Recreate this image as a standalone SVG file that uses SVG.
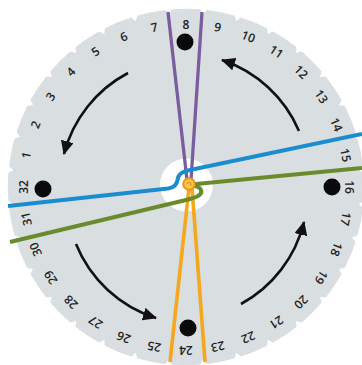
<svg xmlns="http://www.w3.org/2000/svg" xmlns:xlink="http://www.w3.org/1999/xlink" width="362" height="365" viewBox="0 0 362 365">
<style>
.disc{fill:#d9dee1;stroke:#d9dee1;stroke-width:2.5;stroke-linejoin:round}
.lbl{font-family:"Open Sans","DejaVu Sans",sans-serif;font-size:12px;font-weight:600;fill:#222;text-anchor:middle;dominant-baseline:central}
.dot{fill:#0a0a0a}
.arrow{fill:none;stroke:#111;stroke-width:2.6;marker-end:url(#ah)}
.strand{fill:none;stroke-linecap:butt;stroke-linejoin:round}
</style>
<defs>
<path id="tab" d="M-16.9,-170 L-13.5,-176.4 L0,-177 L13.5,-176.4 L16.9,-170 Z"/>
<marker id="ah" markerUnits="userSpaceOnUse" markerWidth="15" markerHeight="13" refX="13" refY="6.5" orient="auto">
<path d="M0,0 L14,6.5 L0,13 Z" fill="#111"/>
</marker>
</defs>
<rect width="362" height="365" fill="#fff"/>
<g id="disc" transform="translate(186,187)">
<circle class="disc" r="171"/>
<use class="disc" href="#tab" transform="rotate(0)"/>
<use class="disc" href="#tab" transform="rotate(11.25)"/>
<use class="disc" href="#tab" transform="rotate(22.5)"/>
<use class="disc" href="#tab" transform="rotate(33.75)"/>
<use class="disc" href="#tab" transform="rotate(45)"/>
<use class="disc" href="#tab" transform="rotate(56.25)"/>
<use class="disc" href="#tab" transform="rotate(67.5)"/>
<use class="disc" href="#tab" transform="rotate(78.75)"/>
<use class="disc" href="#tab" transform="rotate(90)"/>
<use class="disc" href="#tab" transform="rotate(101.25)"/>
<use class="disc" href="#tab" transform="rotate(112.5)"/>
<use class="disc" href="#tab" transform="rotate(123.75)"/>
<use class="disc" href="#tab" transform="rotate(135)"/>
<use class="disc" href="#tab" transform="rotate(146.25)"/>
<use class="disc" href="#tab" transform="rotate(157.5)"/>
<use class="disc" href="#tab" transform="rotate(168.75)"/>
<use class="disc" href="#tab" transform="rotate(180)"/>
<use class="disc" href="#tab" transform="rotate(191.25)"/>
<use class="disc" href="#tab" transform="rotate(202.5)"/>
<use class="disc" href="#tab" transform="rotate(213.75)"/>
<use class="disc" href="#tab" transform="rotate(225)"/>
<use class="disc" href="#tab" transform="rotate(236.25)"/>
<use class="disc" href="#tab" transform="rotate(247.5)"/>
<use class="disc" href="#tab" transform="rotate(258.75)"/>
<use class="disc" href="#tab" transform="rotate(270)"/>
<use class="disc" href="#tab" transform="rotate(281.25)"/>
<use class="disc" href="#tab" transform="rotate(292.5)"/>
<use class="disc" href="#tab" transform="rotate(303.75)"/>
<use class="disc" href="#tab" transform="rotate(315)"/>
<use class="disc" href="#tab" transform="rotate(326.25)"/>
<use class="disc" href="#tab" transform="rotate(337.5)"/>
<use class="disc" href="#tab" transform="rotate(348.75)"/>
</g>
<g id="labels" transform="translate(186,187)">
<text class="lbl" transform="rotate(-78.75) translate(0,-163)">1</text>
<text class="lbl" transform="rotate(-67.5) translate(0,-163)">2</text>
<text class="lbl" transform="rotate(-56.25) translate(0,-163)">3</text>
<text class="lbl" transform="rotate(-45) translate(0,-163)">4</text>
<text class="lbl" transform="rotate(-33.75) translate(0,-163)">5</text>
<text class="lbl" transform="rotate(-22.5) translate(0,-163)">6</text>
<text class="lbl" transform="rotate(-11.25) translate(0,-163)">7</text>
<text class="lbl" transform="rotate(0) translate(0,-163)">8</text>
<text class="lbl" transform="rotate(11.25) translate(0,-163)">9</text>
<text class="lbl" transform="rotate(22.5) translate(0,-163)">10</text>
<text class="lbl" transform="rotate(33.75) translate(0,-163)">11</text>
<text class="lbl" transform="rotate(45) translate(0,-163)">12</text>
<text class="lbl" transform="rotate(56.25) translate(0,-163)">13</text>
<text class="lbl" transform="rotate(67.5) translate(0,-163)">14</text>
<text class="lbl" transform="rotate(78.75) translate(0,-163)">15</text>
<text class="lbl" transform="rotate(90) translate(0,-163)">16</text>
<text class="lbl" transform="rotate(101.25) translate(0,-163)">17</text>
<text class="lbl" transform="rotate(112.5) translate(0,-163)">18</text>
<text class="lbl" transform="rotate(123.75) translate(0,-163)">19</text>
<text class="lbl" transform="rotate(135) translate(0,-163)">20</text>
<text class="lbl" transform="rotate(146.25) translate(0,-163)">21</text>
<text class="lbl" transform="rotate(157.5) translate(0,-163)">22</text>
<text class="lbl" transform="rotate(168.75) translate(0,-163)">23</text>
<text class="lbl" transform="rotate(180) translate(0,-163)">24</text>
<text class="lbl" transform="rotate(191.25) translate(0,-163)">25</text>
<text class="lbl" transform="rotate(202.5) translate(0,-163)">26</text>
<text class="lbl" transform="rotate(213.75) translate(0,-163)">27</text>
<text class="lbl" transform="rotate(225) translate(0,-163)">28</text>
<text class="lbl" transform="rotate(236.25) translate(0,-163)">29</text>
<text class="lbl" transform="rotate(247.5) translate(0,-163)">30</text>
<text class="lbl" transform="rotate(258.75) translate(0,-163)">31</text>
<text class="lbl" transform="rotate(270) translate(0,-163)">32</text>
</g>
<g id="dots">
<circle class="dot" cx="185" cy="42" r="8.5"/>
<circle class="dot" cx="332" cy="187" r="8.5"/>
<circle class="dot" cx="188" cy="328" r="8.5"/>
<circle class="dot" cx="43" cy="189" r="8.5"/>
</g>
<g id="arrows">
<path class="arrow" d="M128,73 A128,128 0 0 0 64,154"/>
<path class="arrow" d="M299,131 A128,128 0 0 0 222,60"/>
<path class="arrow" d="M76,244 A128,128 0 0 0 156,318"/>
<path class="arrow" d="M241,304 A128,128 0 0 0 304,222"/>
</g>
<circle id="hole" cx="186.5" cy="185" r="26.5" fill="#fff"/>
<g id="strands">
<path class="strand" stroke="#7a5d9f" stroke-width="3.3" d="M168,12 L187,180 M202,12 L191,180"/>
<path class="strand" stroke="#f5a81c" stroke-width="3.6" d="M189,188 L170,362 M192,188 L205,362"/>
<path class="strand" stroke="#1b8dcf" stroke-width="4" d="M8,206 L168,188.5 C175,187.5 177,184 177.5,180 C178,174 182,171.5 190,170 L362,134"/>
<path class="strand" stroke="#6a8a2b" stroke-width="4" d="M10,242 L186,200 C196,197.5 203,195 201,190 C199.5,186.5 196,186 193,186"/>
<path class="strand" stroke="#6a8a2b" stroke-width="4" d="M191,184.5 L362,168"/>
</g>
<g id="knot">
<circle cx="189" cy="184" r="5.8" fill="#f7c64a" stroke="#e8961a" stroke-width="2"/>
<path d="M189,184 m-1.5,0 a1.8,1.8 0 1 1 2.5,1.8" fill="none" stroke="#d9861a" stroke-width="1"/>
</g>
</svg>
